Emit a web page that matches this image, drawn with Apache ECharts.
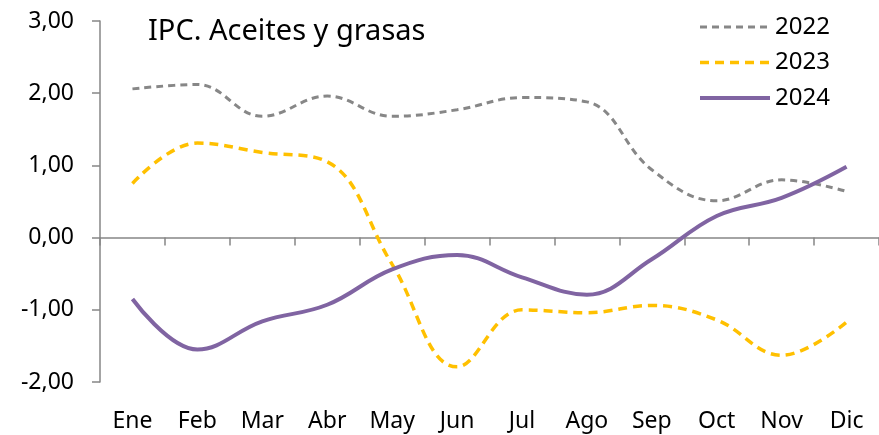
<!DOCTYPE html>
<html>
<head>
<meta charset="utf-8">
<script src="https://cdn.jsdelivr.net/npm/echarts@6/dist/echarts.min.js"></script>
<style>
    html,body{margin:0;padding:0;background:#fff;}
    #ipc{width:879px;height:435px;}
</style>
</head>
<body>
<div id="ipc"></div>
<script>
    // meses
    var months = ['Ene','Feb','Mar','Abr','May','Jun','Jul','Ago','Sep','Oct','Nov','Dic'];
    // variación IPC aceites y grasas
    var serie2022 = [2.06, 2.12, 1.68, 1.96, 1.68, 1.77, 1.94, 1.88, 0.94, 0.51, 0.80, 0.64];
    var serie2023 = [0.75, 1.31, 1.18, 1.05, -0.37, -1.79, -1.00, -1.04, -0.94, -1.14, -1.63, -1.17];
    var serie2024 = [-0.85, -1.55, -1.16, -0.93, -0.44, -0.24, -0.55, -0.79, -0.30, 0.30, 0.55, 0.98];
    var yTicks = [-2, -1, 0, 1, 2, 3];

    var font = 'Noto Sans';
    var axisGray = '#868686';

    var chart = echarts.init(document.getElementById('ipc'));
    var option = {
        animation:false,
        textStyle:{fontFamily:font},
        title:{
            text:'IPC. Aceites y grasas',
            left:143,
            top:12,
            textStyle:{fontFamily:font,fontSize:29,fontWeight:'normal',color:'#000'}
        },
        legend:{
            orient:'vertical',
            left:693,
            top:10,
            itemWidth:70,
            itemHeight:20,
            itemGap:11.5,
            itemStyle:{opacity:0},
            lineStyle:{width:'inherit'},
            textStyle:{fontFamily:font,fontSize:24,color:'#000'},
            data:['2022','2023','2024']
        },
        grid:{left:100,top:21,width:781,height:361},
        xAxis:[
            {
                type:'category',
                data:months,
                boundaryGap:true,
                axisLine:{onZero:true,lineStyle:{color:axisGray,width:1.5}},
                axisTick:{show:true,length:8,lineStyle:{color:axisGray,width:1.5}},
                axisLabel:{show:false}
            },
            {
                type:'category',
                data:months,
                position:'bottom',
                boundaryGap:true,
                axisLine:{show:false,onZero:false},
                axisTick:{show:false},
                axisLabel:{margin:28,fontFamily:font,fontSize:23,color:'#000',interval:0}
            }
        ],
        yAxis:{
            type:'value',
            min:yTicks[0],
            max:yTicks[yTicks.length-1],
            interval:1,
            splitLine:{show:false},
            axisLine:{show:true,lineStyle:{color:axisGray,width:1.5}},
            axisTick:{show:true,inside:false,length:8,lineStyle:{color:axisGray,width:1.5}},
            axisLabel:{
                margin:26,fontFamily:font,fontSize:23,color:'#000',
                formatter:function(v){return v.toFixed(2).replace('.',',');}
            }
        },
        series:[
            {
                name:'2022',type:'line',data:serie2022,smooth:0.4,symbol:'none',xAxisIndex:0,
                lineStyle:{color:'#878787',width:3,type:[7,5]},itemStyle:{color:'#878787'}
            },
            {
                name:'2023',type:'line',data:serie2023,smooth:0.4,symbol:'none',xAxisIndex:0,
                lineStyle:{color:'#FFC000',width:3.5,type:[9,6]},itemStyle:{color:'#FFC000'}
            },
            {
                name:'2024',type:'line',data:serie2024,smooth:0.4,symbol:'none',xAxisIndex:0,
                lineStyle:{color:'#8064A2',width:4},itemStyle:{color:'#8064A2'}
            }
        ]
    };
    chart.setOption(option);
</script>
</body>
</html>
